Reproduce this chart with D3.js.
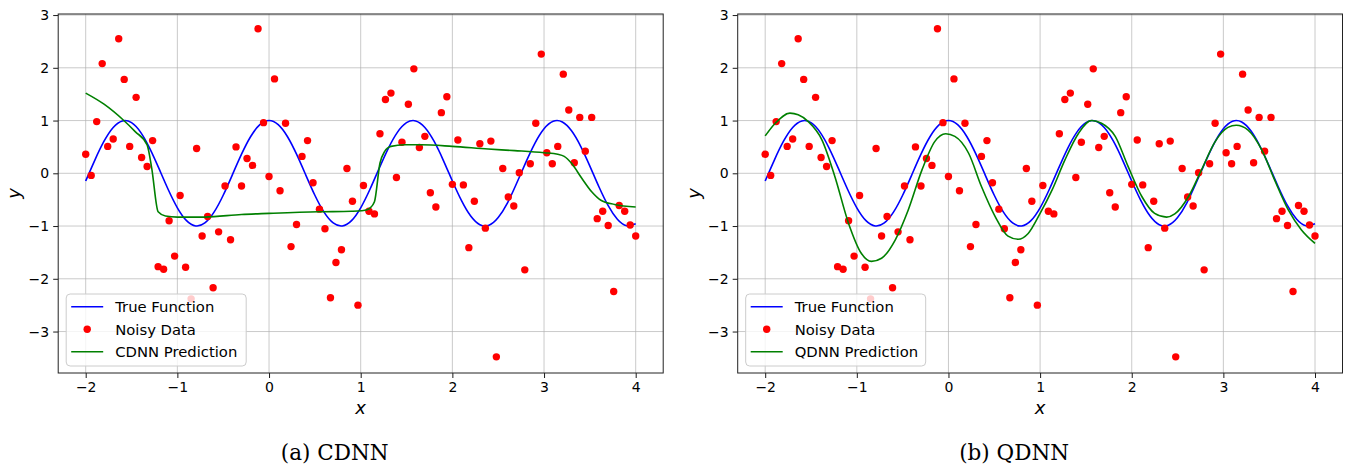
<!DOCTYPE html>
<html>
<head>
<meta charset="utf-8">
<script src="https://cdn.jsdelivr.net/npm/d3@7"></script>
<style>
  html, body { margin: 0; padding: 0; background: #fff; }
  svg { display: block; }
</style>
</head>
<body>
<svg id="chart" width="1345" height="466"></svg>
<script>
// noisy samples (same in both panels)
const noisyX = [
  -2.00, -1.94, -1.88, -1.82, -1.76, -1.70, -1.64, -1.58, -1.52, -1.45,
  -1.39, -1.33, -1.27, -1.21, -1.15, -1.09, -1.03, -0.97, -0.91, -0.85,
  -0.79, -0.73, -0.67, -0.61, -0.55, -0.48, -0.42, -0.36, -0.30, -0.24,
  -0.18, -0.12, -0.06, 0.00, 0.06, 0.12, 0.18, 0.24, 0.30, 0.36,
  0.42, 0.48, 0.55, 0.61, 0.67, 0.73, 0.79, 0.85, 0.91, 0.97,
  1.03, 1.09, 1.15, 1.21, 1.27, 1.33, 1.39, 1.45, 1.52, 1.58,
  1.64, 1.70, 1.76, 1.82, 1.88, 1.94, 2.00, 2.06, 2.12, 2.18,
  2.24, 2.30, 2.36, 2.42, 2.48, 2.55, 2.61, 2.67, 2.73, 2.79,
  2.85, 2.91, 2.97, 3.03, 3.09, 3.15, 3.21, 3.27, 3.33, 3.39,
  3.45, 3.52, 3.58, 3.64, 3.70, 3.76, 3.82, 3.88, 3.94, 4.00
]
const noisyY = [
  0.36, -0.04, 0.98, 2.08, 0.51, 0.65, 2.55, 1.78, 0.51, 1.44,
  0.30, 0.13, 0.62, -1.77, -1.82, -0.90, -1.57, -0.42, -1.78, -2.38,
  0.47, -1.19, -0.82, -2.17, -1.11, -0.24, -1.26, 0.50, -0.24, 0.28,
  0.15, 2.74, 0.96, -0.06, 1.79, -0.33, 0.95, -1.39, -0.97, 0.32,
  0.62, -0.18, -0.68, -1.05, -2.36, -1.69, -1.45, 0.09, -0.53, -2.50,
  -0.23, -0.72, -0.77, 0.75, 1.40, 1.52, -0.08, 0.59, 1.31, 1.98,
  0.49, 0.70, -0.37, -0.64, 1.15, 1.45, -0.21, 0.63, -0.22, -1.41,
  -0.53, 0.56, -1.04, 0.61, -3.48, 0.09, -0.45, -0.62, 0.01, -1.83,
  0.18, 0.95, 2.26, 0.39, 0.18, 0.51, 1.88, 1.20, 0.20, 1.06,
  0.42, 1.06, -0.86, -0.72, -0.99, -2.24, -0.61, -0.72, -0.98, -1.19
]

// true function, read every 0.1
const trueX = [
  -2.0, -1.9, -1.8, -1.7, -1.6, -1.5, -1.4, -1.3, -1.2, -1.1,
  -1.0, -0.9, -0.8, -0.7, -0.6, -0.5, -0.4, -0.3, -0.2, -0.1,
  0.0, 0.1, 0.2, 0.3, 0.4, 0.5, 0.6, 0.7, 0.8, 0.9,
  1.0, 1.1, 1.2, 1.3, 1.4, 1.5, 1.6, 1.7, 1.8, 1.9,
  2.0, 2.1, 2.2, 2.3, 2.4, 2.5, 2.6, 2.7, 2.8, 2.9,
  3.0, 3.1, 3.2, 3.3, 3.4, 3.5, 3.6, 3.7, 3.8, 3.9, 4.0
]
const trueY = [
  -0.146, 0.251, 0.608, 0.869, 0.993, 0.960, 0.776, 0.469, 0.088, -0.307,
  -0.654, -0.897, -0.998, -0.942, -0.737, -0.416, -0.029, 0.362, 0.697, 0.921,
  1.000, 0.921, 0.697, 0.362, -0.029, -0.416, -0.737, -0.942, -0.998, -0.897,
  -0.654, -0.307, 0.088, 0.469, 0.776, 0.960, 0.993, 0.869, 0.608, 0.251,
  -0.146, -0.519, -0.811, -0.975, -0.985, -0.839, -0.566, -0.194, 0.202, 0.568,
  0.844, 0.986, 0.973, 0.806, 0.512, 0.137, -0.260, -0.615, -0.873, -0.995, -0.958
]

// CDNN prediction
const cdnnX = [-2.0, -1.8, -1.59, -1.46, -1.33, -1.28, -1.21, -1.13, -1.0, -0.7, -0.3, 0.0, 0.54, 0.9, 1.01, 1.07, 1.10, 1.15, 1.21, 1.26, 1.33, 1.48, 1.66, 2.0, 2.39, 2.68, 3.0, 3.15, 3.22, 3.30, 3.41, 3.52, 3.62, 3.77, 4.0]
const cdnnY = [1.52, 1.31, 1.01, 0.79, 0.54, 0.10, -0.73, -0.81, -0.83, -0.83, -0.78, -0.76, -0.73, -0.72, -0.71, -0.69, -0.66, -0.54, 0.19, 0.41, 0.51, 0.54, 0.54, 0.51, 0.46, 0.43, 0.39, 0.36, 0.32, 0.19, -0.09, -0.35, -0.51, -0.59, -0.64]

// QDNN prediction
const qdnnX = [-2.0, -1.89, -1.73, -1.64, -1.53, -1.38, -1.24, -1.09, -0.95, -0.84, -0.73, -0.58, -0.44, -0.29, -0.15, -0.03, 0.07, 0.22, 0.36, 0.51, 0.65, 0.76, 0.87, 1.0, 1.13, 1.27, 1.42, 1.56, 1.67, 1.82, 1.96, 2.11, 2.25, 2.38, 2.47, 2.62, 2.76, 2.91, 3.05, 3.14, 3.27, 3.42, 3.56, 3.71, 3.85, 4.0]
const qdnnY = [0.71, 0.95, 1.14, 1.11, 0.98, 0.63, -0.06, -0.95, -1.52, -1.67, -1.61, -1.26, -0.70, 0.06, 0.60, 0.75, 0.70, 0.38, -0.25, -0.82, -1.19, -1.25, -1.14, -0.76, -0.32, 0.25, 0.76, 1.00, 0.95, 0.70, 0.13, -0.44, -0.76, -0.83, -0.77, -0.44, 0.06, 0.60, 0.87, 0.91, 0.82, 0.44, -0.13, -0.70, -1.07, -1.33]

const xTicks = [-2, -1, 0, 1, 2, 3, 4]
const yTicks = [-3, -2, -1, 0, 1, 2, 3]

const panels = [
  { left: 58.2, right: 663.2, caption: '(a) CDNN', predName: 'CDNN Prediction', predX: cdnnX, predY: cdnnY },
  { left: 737.7, right: 1342.5, caption: '(b) QDNN', predName: 'QDNN Prediction', predX: qdnnX, predY: qdnnY },
]

const plotTop = 14, plotBottom = 373
const sans = 'DejaVu Sans, sans-serif'
const svg = d3.select('#chart')

panels.forEach((p) => {
  const x = d3.scaleLinear().domain([-2.3, 4.3]).range([p.left, p.right])
  const y = d3.scaleLinear().domain([-3.786, 3.02]).range([plotBottom, plotTop])
  const g = svg.append('g')

  // grid
  g.append('g').selectAll('line').data(xTicks).join('line')
    .attr('x1', (d) => x(d)).attr('x2', (d) => x(d))
    .attr('y1', plotTop).attr('y2', plotBottom)
    .attr('stroke', '#b0b0b0').attr('stroke-opacity', 0.75).attr('stroke-width', 0.9)
  g.append('g').selectAll('line').data(yTicks).join('line')
    .attr('y1', (d) => y(d)).attr('y2', (d) => y(d))
    .attr('x1', p.left).attr('x2', p.right)
    .attr('stroke', '#b0b0b0').attr('stroke-opacity', 0.75).attr('stroke-width', 0.9)

  // axes
  const fmt = (d) => (d < 0 ? '\u2212' + Math.abs(d) : d)
  const xAxis = g.append('g')
    .attr('transform', `translate(0,${plotBottom})`)
    .call(d3.axisBottom(x).tickValues(xTicks).tickSize(5).tickSizeOuter(0).tickPadding(4).tickFormat(fmt))
  const yAxis = g.append('g')
    .attr('transform', `translate(${p.left},0)`)
    .call(d3.axisLeft(y).tickValues(yTicks).tickSize(5).tickSizeOuter(0).tickPadding(4).tickFormat(fmt))
  ;[xAxis, yAxis].forEach((a) => {
    a.select('.domain').remove()
    a.selectAll('text').attr('font-family', sans).attr('font-size', 14).attr('fill', '#000')
    a.selectAll('line').attr('stroke', '#000').attr('stroke-width', 0.9)
  })

  // frame
  g.append('rect')
    .attr('x', p.left).attr('y', plotTop)
    .attr('width', p.right - p.left).attr('height', plotBottom - plotTop)
    .attr('fill', 'none').attr('stroke', '#222').attr('stroke-width', 1)

  const line = d3.line().x((d) => x(d[0])).y((d) => y(d[1]))

  g.append('path')
    .attr('d', line.curve(d3.curveNatural)(d3.zip(trueX, trueY)))
    .attr('fill', 'none').attr('stroke', '#0000ff').attr('stroke-width', 1.6)

  g.append('g').selectAll('circle').data(d3.zip(noisyX, noisyY)).join('circle')
    .attr('cx', (d) => x(d[0])).attr('cy', (d) => y(d[1]))
    .attr('r', 3.7).attr('fill', '#ff0000')

  g.append('path')
    .attr('d', line.curve(d3.curveMonotoneX)(d3.zip(p.predX, p.predY)))
    .attr('fill', 'none').attr('stroke', '#008000').attr('stroke-width', 1.6)

  // legend
  const lx = p.left + 8, ly = 294
  const leg = g.append('g').attr('transform', `translate(${lx},${ly})`)
  const entries = [
    { name: 'True Function', type: 'line', color: '#0000ff' },
    { name: 'Noisy Data', type: 'dot', color: '#ff0000' },
    { name: p.predName, type: 'line', color: '#008000' },
  ]
  leg.append('rect')
    .attr('width', 180).attr('height', 72).attr('rx', 4)
    .attr('fill', '#fff').attr('fill-opacity', 0.8)
    .attr('stroke', '#cccccc').attr('stroke-width', 1)
  entries.forEach((e, i) => {
    const ey = 12.7 + i * 22.5
    if (e.type === 'line') {
      leg.append('line').attr('x1', 5).attr('x2', 37).attr('y1', ey).attr('y2', ey)
        .attr('stroke', e.color).attr('stroke-width', 1.6)
    } else {
      leg.append('circle').attr('cx', 21).attr('cy', ey).attr('r', 3.7).attr('fill', e.color)
    }
    leg.append('text').attr('x', 49).attr('y', ey).attr('dy', '0.36em')
      .attr('font-family', sans).attr('font-size', 14.8).text(e.name)
  })

  // axis titles
  g.append('text')
    .attr('x', (p.left + p.right) / 2).attr('y', 414)
    .attr('text-anchor', 'middle').attr('font-family', sans)
    .attr('font-style', 'italic').attr('font-size', 18).text('x')
  g.append('text')
    .attr('transform', `translate(${p.left - 38},${(plotTop + plotBottom) / 2}) rotate(-90)`)
    .attr('text-anchor', 'middle').attr('font-family', sans)
    .attr('font-style', 'italic').attr('font-size', 18).text('y')

  // caption
  g.append('text')
    .attr('x', (p.left + p.right) / 2 - 26).attr('y', 460)
    .attr('text-anchor', 'middle').attr('font-family', 'DejaVu Serif, serif')
    .attr('font-size', 21.5).text(p.caption)
})
</script>
</body>
</html>
